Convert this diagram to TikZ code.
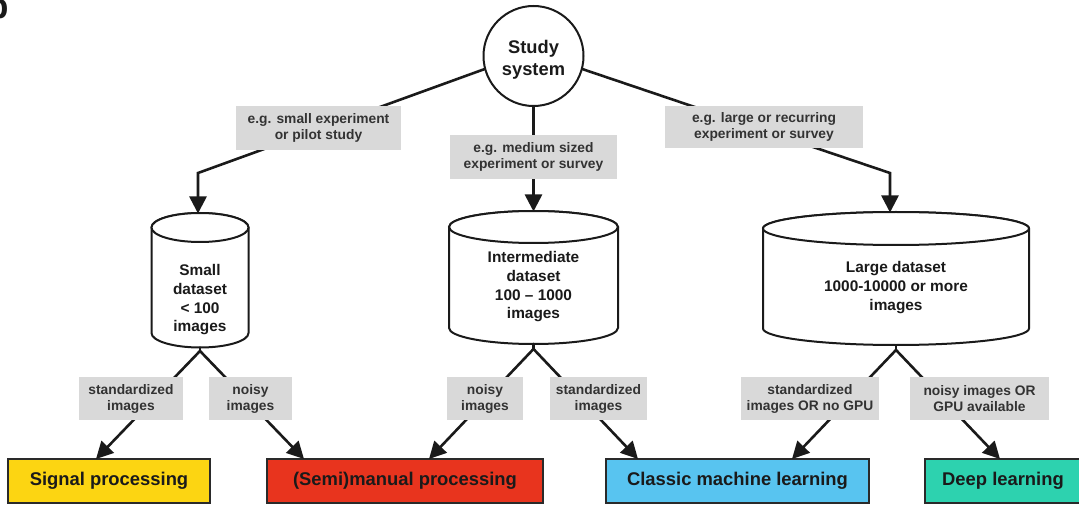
\documentclass[tikz,border=0pt]{standalone}
\usepackage{fontspec}
\setmainfont{Liberation Sans}
\usetikzlibrary{arrows.meta}
\definecolor{lblgray}{HTML}{D9D9D9}
\definecolor{lbltext}{HTML}{333333}
\definecolor{ink}{HTML}{1A1A1A}
\definecolor{sigyellow}{HTML}{FCD512}
\definecolor{semired}{HTML}{E8341E}
\definecolor{mlblue}{HTML}{58C4F0}
\definecolor{dlteal}{HTML}{2DD2AF}
\definecolor{boxborder}{HTML}{2A2A2A}
\begin{document}
\begin{tikzpicture}[x=1pt,y=-1pt,
  conn/.style={draw=ink, line width=2.6pt, line cap=round, line join=miter},
  arr/.style={conn, -{Triangle[width=17pt,length=17pt]}},
  lbl/.style={fill=lblgray, text=lbltext, font=\fontsize{13.8}{16}\selectfont\bfseries, align=center, inner sep=0pt, minimum height=43pt},
  cyltext/.style={text=ink, font=\fontsize{15.4}{18.7}\selectfont\bfseries, align=center, inner sep=0pt},
  cylline/.style={draw=ink, line width=2pt, fill=white},
  outbox/.style={draw=boxborder, line width=2.2pt, text=ink, font=\fontsize{18.4}{22}\selectfont\bfseries, inner sep=0pt, minimum height=44pt},
]
\useasboundingbox (0,0) rectangle (1079,505);

% panel letter (cut off at the left edge, as in the reference)
\node[anchor=base west, font=\fontsize{35}{40}\selectfont\bfseries, text=ink, inner sep=0pt] (panel) at (-12.5,18.5) {b};

% cylinders
\draw[cylline] (151.5,227.5) -- (151.5,333) arc[start angle=180,end angle=360,x radius=48.5pt,y radius=14.5pt] -- (248.5,227.5) arc[start angle=0,end angle=180,x radius=48.5pt,y radius=14.5pt] -- cycle;
\draw[cylline] (200,227.5) ellipse[x radius=48.5pt, y radius=14.5pt];

\draw[cylline] (449,227) -- (449,328) arc[start angle=180,end angle=360,x radius=84.5pt,y radius=16pt] -- (618,227) arc[start angle=0,end angle=180,x radius=84.5pt,y radius=16pt] -- cycle;
\draw[cylline] (533.5,227) ellipse[x radius=84.5pt, y radius=16pt];

\draw[cylline] (763,228.5) -- (763,328.5) arc[start angle=180,end angle=360,x radius=133pt,y radius=16.5pt] -- (1029,228.5) arc[start angle=0,end angle=180,x radius=133pt,y radius=16.5pt] -- cycle;
\draw[cylline] (896,228.5) ellipse[x radius=133pt, y radius=16.5pt];

\node[cyltext] (cylL) at (200,300) {Small\\dataset\\< 100\\images};
\node[cyltext] (cylM) at (533.5,287) {Intermediate\\dataset\\100 -- 1000\\images};
\node[cyltext] (cylR) at (896,287.5) {Large dataset\\1000-10000 or more\\images};

% study system
\node[circle, draw=ink, line width=2pt, fill=white, minimum size=100pt, inner sep=0pt] (circ) at (533.5,56) {};
\node[align=center, text=ink, inner sep=0pt, font=\fontsize{18.3}{22}\selectfont\bfseries] (circtext) at (533.5,60) {Study\\system};

% output boxes
\node[outbox, fill=sigyellow, minimum width=202pt] (sig) at (109,481) {Signal processing};
\node[outbox, fill=semired, minimum width=276pt] (semi) at (405,481) {(Semi)manual processing};
\node[outbox, fill=mlblue, minimum width=263pt] (cml) at (737.5,481) {Classic machine learning};
\node[outbox, fill=dlteal, minimum width=156pt] (dl) at (1003,481) {Deep learning};

% coordinates
\coordinate (bendL) at (198,173);
\coordinate (cylLtop) at (198,213.5);
\coordinate (bendR) at (890,173);
\coordinate (cylRtop) at (890,212.5);
\coordinate (cylMtop) at (533.5,211.5);

\coordinate (botL) at (200,347.5);
\coordinate (apexL) at (200,351);
\coordinate (botM) at (533.5,344);
\coordinate (apexM) at (533.5,349);
\coordinate (botR) at (896,345);
\coordinate (apexR) at (896,350);

\coordinate (tL1) at (96,459);
\coordinate (tL2) at (304,459);
\coordinate (tM1) at (429,459);
\coordinate (tM2) at (638,459);
\coordinate (tR1) at (792,459);
\coordinate (tR2) at (1000,459);

% top connectors
\draw[arr] (circ.195) -- (bendL) -- (cylLtop);
\draw[arr] (circ.south) -- (cylMtop);
\draw[arr] (circ.-15) -- (bendR) -- (cylRtop);

% bottom connectors
\draw[conn] (botL) -- (apexL);
\draw[conn] (botM) -- (apexM);
\draw[conn] (botR) -- (apexR);
\draw[arr] (apexL) -- (tL1);
\draw[arr] (apexL) -- (tL2);
\draw[arr] (apexM) -- (tM1);
\draw[arr] (apexM) -- (tM2);
\draw[arr] (apexR) -- (tR1);
\draw[arr] (apexR) -- (tR2);

% labels
\node[lbl, minimum width=165pt, minimum height=44pt] (lab1) at (318.5,128) {e.g. small experiment\\or pilot study};
\node[lbl, minimum width=167pt, minimum height=44pt] (lab2) at (533.5,157) {e.g. medium sized\\experiment or survey};
\node[lbl, minimum width=198pt, minimum height=42pt] (lab3) at (764,127) {e.g. large or recurring\\experiment or survey};

\node[lbl, minimum width=104pt] (bl1) at (131,398.5) {standardized\\images};
\node[lbl, minimum width=83pt] (bl2) at (250.5,398.5) {noisy\\images};
\node[lbl, minimum width=76pt] (bm1) at (485,398.5) {noisy\\images};
\node[lbl, minimum width=97pt] (bm2) at (598.5,398.5) {standardized\\images};
\node[lbl, minimum width=138pt] (br1) at (810,398.5) {standardized\\images OR no GPU};
\node[lbl, minimum width=139pt] (br2) at (979.5,398.5) {noisy images OR\\GPU available};
\end{tikzpicture}
\end{document}
